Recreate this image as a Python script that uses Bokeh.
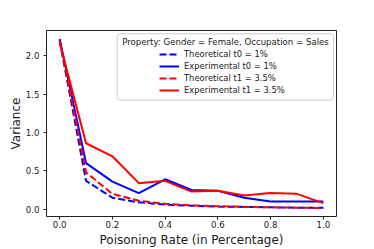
from bokeh.plotting import figure
from bokeh.models import (Range1d, Legend, LegendItem, BoxAnnotation, Label,
                          FixedTicker, PrintfTickFormatter)
from bokeh.embed import file_html
from bokeh.resources import INLINE

poison_rate = [0.0, 0.1, 0.2, 0.3, 0.4, 0.5, 0.6, 0.7, 0.8, 0.9, 1.0]
theo_t0 = [2.20, 0.37, 0.15, 0.09, 0.06, 0.045, 0.035, 0.03, 0.025, 0.02, 0.02]
exp_t0 = [2.22, 0.60, 0.36, 0.21, 0.39, 0.25, 0.24, 0.15, 0.10, 0.10, 0.10]
theo_t1 = [2.20, 0.48, 0.20, 0.11, 0.07, 0.05, 0.04, 0.03, 0.025, 0.02, 0.015]
exp_t1 = [2.17, 0.86, 0.69, 0.34, 0.37, 0.23, 0.24, 0.18, 0.21, 0.20, 0.08]

x_ticks = [0.0, 0.2, 0.4, 0.6, 0.8, 1.0]
y_ticks = [0.0, 0.5, 1.0, 1.5, 2.0]
legend_title = "Property: Gender = Female, Occupation = Sales"
labels = ["Theoretical t0 = 1%", "Experimental t0 = 1%",
          "Theoretical t1 = 3.5%", "Experimental t1 = 3.5%"]

FONT = "DejaVu Sans"
TXT = "#1a1a1a"

p = figure(width=374, height=249, output_backend="svg", toolbar_location=None,
           x_range=Range1d(-0.05, 1.05), y_range=Range1d(-0.095, 2.33),
           min_border_left=46, min_border_right=38, min_border_top=30, min_border_bottom=32)
p.background_fill_color = "white"
p.border_fill_color = "white"
p.outline_line_color = "#222222"
p.outline_line_width = 1
p.xgrid.visible = False
p.ygrid.visible = False

for ax in (p.xaxis[0], p.yaxis[0]):
    ax.axis_line_color = None
    ax.major_tick_line_color = "#222222"
    ax.major_tick_out = 3
    ax.major_tick_in = 0
    ax.minor_tick_line_color = None
    ax.major_label_text_font = FONT
    ax.major_label_text_font_size = "8.6px"
    ax.major_label_text_color = TXT
    ax.axis_label_text_font = FONT
    ax.axis_label_text_font_size = "12px"
    ax.axis_label_text_font_style = "normal"
    ax.axis_label_text_color = TXT
    ax.formatter = PrintfTickFormatter(format="%.1f")

p.xaxis[0].major_label_standoff = 1
p.xaxis[0].axis_label_standoff = 2
p.yaxis[0].major_label_standoff = 4
p.yaxis[0].axis_label_standoff = 0

p.xaxis[0].ticker = FixedTicker(ticks=x_ticks)
p.yaxis[0].ticker = FixedTicker(ticks=y_ticks)
p.xaxis[0].axis_label = "Poisoning Rate (in Percentage)"
p.yaxis[0].axis_label = "Variance"

r1 = p.line(poison_rate, theo_t0, line_color="blue", line_width=2, line_dash="7 3")
r2 = p.line(poison_rate, exp_t0, line_color="blue", line_width=2)
r3 = p.line(poison_rate, theo_t1, line_color="red", line_width=2, line_dash="7 3")
r4 = p.line(poison_rate, exp_t1, line_color="red", line_width=2)

box = BoxAnnotation(left=0.218, right=1.0386, top=2.287, bottom=1.422,
                    left_units="data", right_units="data", top_units="data", bottom_units="data",
                    fill_color="white", fill_alpha=0.8, border_radius=3,
                    line_color="#cccccc", line_width=1, line_alpha=1.0)
p.add_layout(box)

title = Label(x=0.629, y=2.185, text=legend_title, text_align="center",
              text_baseline="middle", text_font=FONT, text_font_size="8.6px",
              text_color=TXT)
p.add_layout(title)

legend = Legend(items=[LegendItem(label=l, renderers=[r]) for l, r in zip(labels, [r1, r2, r3, r4])],
                location=(113, 121), border_line_color=None, background_fill_alpha=0,
                label_text_font=FONT, label_text_font_size="8.4px", label_text_color=TXT,
                glyph_width=20, glyph_height=10, label_height=10, label_standoff=5,
                spacing=2, padding=0, margin=0)
p.add_layout(legend, "center")

open("out.html", "w").write(file_html(p, INLINE))
